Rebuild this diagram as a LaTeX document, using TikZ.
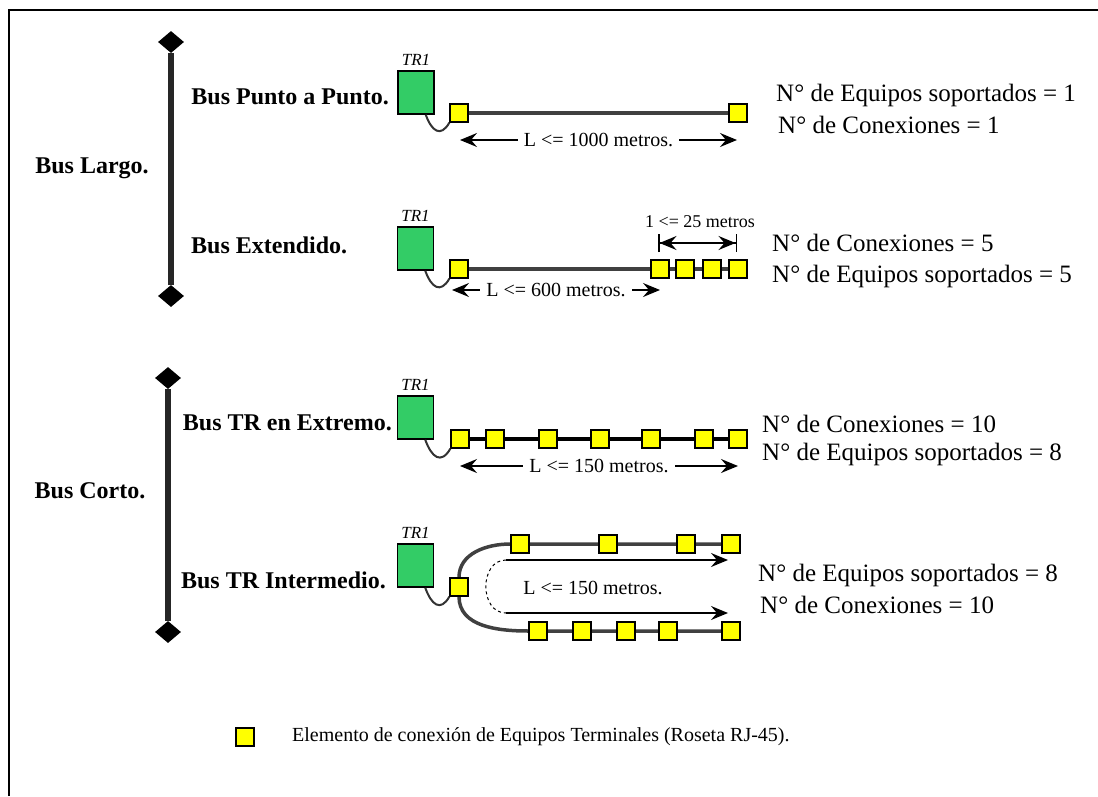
\documentclass[tikz,border=0pt]{standalone}
\usepackage{fontspec}
\setmainfont{Liberation Serif}
\usepackage{tikz}
\usetikzlibrary{arrows.meta,positioning,backgrounds,shapes.geometric}
\definecolor{trgreen}{RGB}{51,204,102}
\definecolor{rjyellow}{RGB}{255,255,0}
\tikzset{
  trbox/.style={rectangle, draw=black, line width=1.5pt, fill=trgreen, minimum width=36pt, minimum height=43pt, inner sep=0pt},
  roseta/.style={rectangle, draw=black, line width=1.2pt, fill=rjyellow, minimum size=18pt, inner sep=0pt},
  trlabel/.style={font=\fontsize{17}{17}\selectfont\itshape, inner sep=0pt},
  tipo/.style={font=\fontsize{24}{24}\selectfont\bfseries, inner sep=0pt},
  datos/.style={font=\fontsize{25}{25}\selectfont, anchor=west, inner sep=0pt},
  medida/.style={font=\fontsize{20}{20}\selectfont, fill=white, inner xsep=6pt, inner ysep=1pt},
  punta/.style={diamond, fill=black, minimum width=26pt, minimum height=22pt, inner sep=0pt},
  eje/.style={line width=6pt, black!85},
  bus/.style={line width=3.5pt, black!75},
  cable/.style={line width=2pt, black!80},
  cota/.style={line width=1.5pt, {Stealth[length=17pt,width=14pt,inset=6pt]}-{Stealth[length=17pt,width=14pt,inset=6pt]}},
  cotabar/.style={line width=1.5pt, {Bar[width=18pt]Stealth[length=17pt,width=14pt,inset=6pt]}-{Stealth[length=17pt,width=14pt,inset=6pt]Bar[width=18pt]}},
  vuelta/.style={line width=1.5pt, -{Stealth[length=17pt,width=14pt,inset=6pt]}}
}

\begin{document}
\begin{tikzpicture}[x=1pt,y=-1pt]
  \useasboundingbox (0,0) rectangle (1098,796);
  % frame
  \draw[line width=2.5pt] (9,796) -- (9,10) -- (1098,10);

  % bus largo / bus corto
  \node[punta] (lt) at (171,42) {};
  \node[punta] (lb) at (171,296) {};
  \draw[eje] (lt) -- (lb);
  \node[tipo] (largo) at (92,168) {Bus Largo.};
  \node[punta] (ct) at (168,378) {};
  \node[punta] (cb) at (168,632) {};
  \draw[eje] (ct) -- (cb);
  \node[tipo] (corto) at (90,491) {Bus Corto.};

  % punto a punto
  \node[tipo, anchor=east] (pp) at (389,97) {Bus Punto a Punto.};
  \node[trbox] (tra) at (416,92.5) {};
  \node[trlabel, above=5pt of tra] {TR1};
  \node[roseta] (ra1) at (459,113) {};
  \node[roseta] (ra2) at (738,113) {};
  \begin{scope}[on background layer]
    \draw[bus] (ra1) -- (ra2);
  \end{scope}
  \draw[cable] ([xshift=-9pt]tra.south east) to[out=-70,in=-120,looseness=1.8] (ra1.south west);
  \coordinate (a1) at (460,140);
  \coordinate (a2) at (737,140);
  \draw[cota] (a1) -- (a2) node[medida, midway] {L <= 1000 metros.};
  \node[datos] at (776,95) {N° de Equipos soportados = 1};
  \node[datos] at (778,125) {N° de Conexiones = 1};

  % extendido
  \node[tipo, anchor=west] (ext) at (191,245) {Bus Extendido.};
  \node[trbox] (trb) at (415.5,248.5) {};
  \node[trlabel, above=5pt of trb] {TR1};
  \node[roseta] (rb1) at (459,269) {};
  \foreach \x [count=\i from 2] in {660,685,712,738}
    \node[roseta] (rb\i) at (\x,269) {};
  \begin{scope}[on background layer]
    \draw[bus] (rb1) -- (rb5);
  \end{scope}
  \draw[cable] ([xshift=-9pt]trb.south east) to[out=-70,in=-120,looseness=1.8] (rb1.south west);
  \coordinate (b1) at (452,290);
  \coordinate (b2) at (660,290);
  \draw[cota] (b1) -- (b2) node[medida, midway] {L <= 600 metros.};
  \coordinate (b3) at (658,243);
  \coordinate (b4) at (737,243);
  \draw[cotabar] (b3) -- (b4);
  \node[font=\fontsize{18}{18}\selectfont, inner sep=0pt] at (700,222) {1 <= 25 metros};
  \node[datos] at (772,243) {N° de Conexiones = 5};
  \node[datos] at (772,276) {N° de Equipos soportados = 5};

  % TR en extremo
  \node[tipo, anchor=east] (extr) at (392,423) {Bus TR en Extremo.};
  \node[trbox] (trc) at (415.5,417.5) {};
  \node[trlabel, above=5pt of trc] {TR1};
  \foreach \x [count=\i] in {460,495,548,600,651,704,738}
    \node[roseta] (rc\i) at (\x,439) {};
  \begin{scope}[on background layer]
    \draw[bus, black] (rc1) -- (rc7);
  \end{scope}
  \draw[cable] ([xshift=-9pt]trc.south east) to[out=-70,in=-120,looseness=1.8] (rc1.south west);
  \coordinate (c1) at (460,466);
  \coordinate (c2) at (738,466);
  \draw[cota] (c1) -- (c2) node[medida, midway] {L <= 150 metros.};
  \node[datos] at (762,424) {N° de Conexiones = 10};
  \node[datos] at (762,454) {N° de Equipos soportados = 8};

  % TR intermedio
  \node[tipo, anchor=east] (inter) at (386,580) {Bus TR Intermedio.};
  \node[trbox] (trd) at (415.5,565.5) {};
  \node[trlabel, above=5pt of trd] {TR1};
  \node[roseta] (rd0) at (459,587) {};
  \foreach \x [count=\i] in {520,608,686,731}
    \node[roseta] (rt\i) at (\x,544) {};
  \foreach \x [count=\i] in {538,582,626,668,731}
    \node[roseta] (rl\i) at (\x,631) {};
  \begin{scope}[on background layer]
    \draw[bus] (rd0.north) to[out=90,in=180] (rt1.west) -- (rt4);
    \draw[bus] (rd0.south) to[out=-90,in=180] (rl1.west) -- (rl5);
  \end{scope}
  \draw[cable] ([xshift=-9pt]trd.south east) to[out=-70,in=-120,looseness=1.8] (rd0.south west);
  \coordinate (u1) at (506,560);
  \coordinate (u2) at (728,560);
  \coordinate (d1) at (506,613);
  \coordinate (d2) at (728,613);
  \draw[vuelta] (u1) -- (u2);
  \draw[vuelta] (d1) -- (d2);
  \draw[line width=1pt, dashed] (u1) to[out=180,in=180,looseness=1.3] (d1);
  \node[font=\fontsize{20}{20}\selectfont, inner sep=0pt] at (593,588) {L <= 150 metros.};
  \node[datos] at (758,575) {N° de Equipos soportados = 8};
  \node[datos] at (760,605) {N° de Conexiones = 10};

  % leyenda
  \node[roseta] (ley) at (245,737) {};
  \node[datos, font=\fontsize{20}{20}\selectfont] at (292,737) {Elemento de conexión de Equipos Terminales (Roseta RJ-45).};
\end{tikzpicture}
\end{document}
